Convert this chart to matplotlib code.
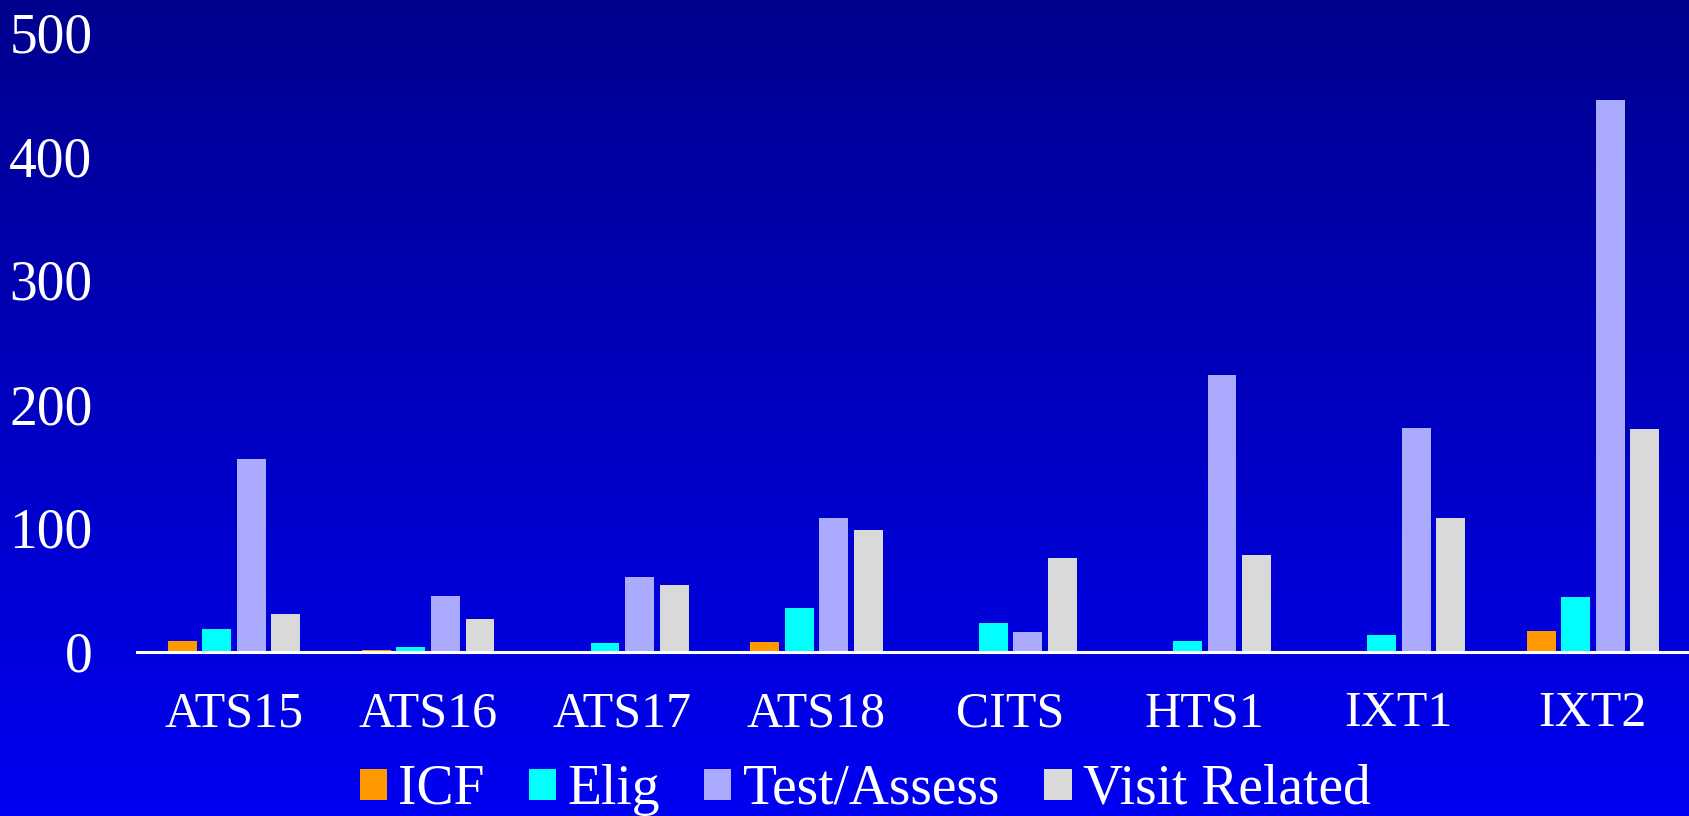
import numpy as np
import matplotlib
matplotlib.use("Agg")
import matplotlib.pyplot as plt
from matplotlib.colors import LinearSegmentedColormap

categories = ["ATS15", "ATS16", "ATS17", "ATS18", "CITS", "HTS1", "IXT1", "IXT2"]
series_names = ["ICF", "Elig", "Test/Assess", "Visit Related"]
icf = [9, 1.6, 0, 8, 1, 1, 0, 17]
elig = [18.5, 4, 7, 35.5, 23.5, 9, 14, 44.5]
test_assess = [156, 45, 60.5, 108, 16, 223, 181, 445]
visit_related = [30.5, 26.5, 54, 98.5, 76, 78, 108, 179.5]
yticks = [0, 100, 200, 300, 400, 500]

colors = ["#FF9900", "#00FFFF", "#AAAAFF", "#D9D9D9"]
W, H, DPI = 1690, 816, 100

fig = plt.figure(figsize=(W / DPI, H / DPI), dpi=DPI)

# gradient background
bg = fig.add_axes([0, 0, 1, 1], zorder=0)
cmap = LinearSegmentedColormap.from_list("bg", ["#00008E", "#0000F2"])
grad = np.linspace(0, 1, 256).reshape(-1, 1)
bg.imshow(grad, aspect="auto", cmap=cmap, extent=[0, 1, 0, 1], origin="upper")
bg.set_axis_off()

left = 137 / W
bottom = (H - 652) / H
top = (H - 32) / H
ax = fig.add_axes([left, bottom, 1 - left, top - bottom], zorder=1)
ax.patch.set_alpha(0)

x = np.arange(len(categories))
pitch = 0.178
bw = 0.149
data = [icf, elig, test_assess, visit_related]
for i, (vals, c, name) in enumerate(zip(data, colors, series_names)):
    ax.bar(x + (i - 1.5) * pitch, vals, width=bw, color=c, label=name, zorder=2)

ax.set_xlim(-0.5, len(categories) - 0.5)
ax.set_ylim(0, 500)
ax.set_yticks(yticks)
ax.set_yticklabels([str(v) for v in yticks])
ax.set_xticks(x)
ax.set_xticklabels(categories)

for s in ["top", "right", "left"]:
    ax.spines[s].set_visible(False)
ax.spines["bottom"].set_color("white")
ax.spines["bottom"].set_linewidth(2.2)
ax.spines["bottom"].set_zorder(3)

serif = "Liberation Serif"
ax.tick_params(axis="y", length=0, pad=32, labelsize=40, labelcolor="white")
ax.tick_params(axis="x", length=0, pad=28, labelsize=36, labelcolor="white")
for lab in ax.get_xticklabels() + ax.get_yticklabels():
    lab.set_fontfamily(serif)

handles, labels = ax.get_legend_handles_labels()
leg = fig.legend(handles, labels, loc="center", bbox_to_anchor=(865 / W, 1 - 790 / H),
                 ncol=4, frameon=False, prop={"family": serif, "size": 40},
                 handlelength=0.49, handleheight=0.47, handletextpad=0.2,
                 columnspacing=0.8, borderaxespad=0, borderpad=0)
for t in leg.get_texts():
    t.set_color("white")

fig.savefig("out.png", dpi=DPI)
